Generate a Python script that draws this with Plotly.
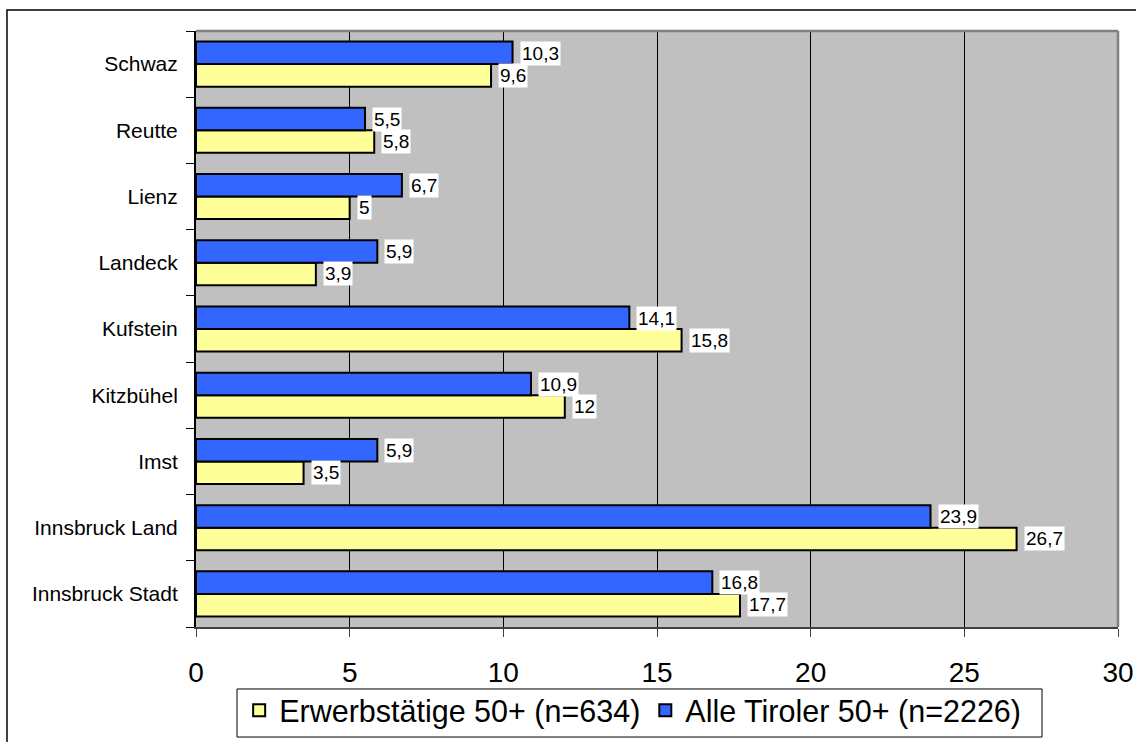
import plotly.graph_objects as go

categories = ["Innsbruck Stadt", "Innsbruck Land", "Imst", "Kitzbühel", "Kufstein",
              "Landeck", "Lienz", "Reutte", "Schwaz"]
erwerbstaetige = [17.7, 26.7, 3.5, 12, 15.8, 3.9, 5, 5.8, 9.6]
alle_tiroler = [16.8, 23.9, 5.9, 10.9, 14.1, 5.9, 6.7, 5.5, 10.3]
series_names = ["Erwerbstätige 50+ (n=634)", "Alle Tiroler 50+ (n=2226)"]
x_ticks = [0, 5, 10, 15, 20, 25, 30]

FONT = "Arial, Liberation Sans, sans-serif"


def fmt(v):
    return ("%g" % v).replace(".", ",")


fig = go.Figure()
fig.add_trace(go.Bar(y=categories, x=erwerbstaetige, orientation="h", name=series_names[0],
                     marker=dict(color="#FFFF99", line=dict(color="black", width=2))))
fig.add_trace(go.Bar(y=categories, x=alle_tiroler, orientation="h", name=series_names[1],
                     marker=dict(color="#3366FF", line=dict(color="black", width=2))))

annotations = []
for series, shift in ((erwerbstaetige, -11), (alle_tiroler, 11)):
    for i, v in enumerate(series):
        annotations.append(dict(x=v, y=i, xref="x", yref="y", text=fmt(v), showarrow=False,
                                xanchor="left", yanchor="middle", xshift=7, yshift=shift,
                                bgcolor="white", borderpad=1,
                                font=dict(family=FONT, size=19, color="black")))

shapes = [
    # outer chart border
    dict(type="rect", xref="paper", yref="paper", x0=-0.205, x1=1.03, y0=-0.21, y1=1.0352,
         line=dict(color="black", width=1.5), fillcolor="rgba(0,0,0,0)", layer="below"),
    # legend frame
    dict(type="rect", xref="paper", yref="paper", x0=0.0445, x1=0.9176, y0=-0.1846, y1=-0.104,
         line=dict(color="black", width=1), fillcolor="white", layer="below"),
    # plot area top/right border (gray)
    dict(type="line", xref="paper", yref="paper", x0=0, x1=1, y0=1, y1=1,
         line=dict(color="#808080", width=2.5)),
    dict(type="line", xref="paper", yref="paper", x0=1, x1=1, y0=0, y1=1,
         line=dict(color="#808080", width=2.5)),
]

fig.update_layout(
    width=1136, height=742,
    margin=dict(l=196, r=18, t=31, b=115, autoexpand=False),
    paper_bgcolor="white", plot_bgcolor="#C0C0C0",
    barmode="group", bargap=0.32, bargroupgap=0,
    font=dict(family=FONT, color="black"),
    showlegend=True,
    legend=dict(orientation="h", x=0.4736, xanchor="center", y=-0.0956, yanchor="top",
                bgcolor="rgba(0,0,0,0)", borderwidth=0,
                font=dict(size=30.5, family=FONT),
                traceorder="normal"),
    annotations=annotations,
    shapes=shapes,
    xaxis=dict(range=[0, 30], tickvals=x_ticks, ticktext=[str(t) for t in x_ticks],
               showgrid=True, gridcolor="black", gridwidth=1,
               showline=True, linecolor="#404040", linewidth=2,
               ticks="outside", ticklen=8, tickcolor="#404040", tickwidth=1,
               tickfont=dict(size=28), ticklabelstandoff=11, zeroline=False),
    yaxis=dict(categoryorder="array", categoryarray=categories,
               showline=True, linecolor="black", linewidth=2,
               ticks="outside", ticklen=8, tickcolor="black", tickson="boundaries",
               tickfont=dict(size=21), ticklabelstandoff=12, showgrid=False),
)

fig.write_html("out.html", config={"displayModeBar": False},
               post_script="document.body.style.margin='0';document.body.style.overflow='hidden';")
